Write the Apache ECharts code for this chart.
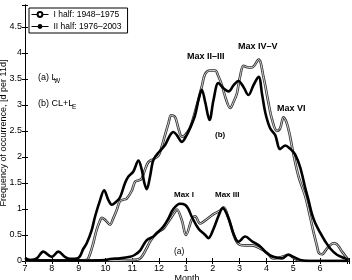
<!DOCTYPE html>
<html>
<head>
<meta charset="utf-8">
<script src="https://cdn.jsdelivr.net/npm/echarts@6/dist/echarts.min.js"></script>
<style>
html,body{margin:0;padding:0;background:#fff}
#chart{width:352px;height:280px}
</style>
</head>
<body>
<div id="chart"></div>
<script>
// x = months since 1 July (0 = "7"), y = days per 11 days
var monthLabels = ['7','8','9','10','11','12','1','2','3','4','5','6'];
var yTickLabels = ['0','0.5','1','1.5','2','2.5','3','3.5','4','4.5'];

// (b) CL+LE, I half 1948-1975 (open circles)
var bFirstHalf = [[0,0.01],[1.0,0.01],[2.0,0.01],[2.30,0.02],[2.40,0.1],[2.55,0.35],[2.67,0.6],[2.80,0.78],[2.86,0.83],
	[2.99,0.79],[3.17,0.7],[3.29,0.82],[3.42,0.98],[3.54,1.15],[3.67,1.18],[3.79,1.2],[3.98,1.35],[4.10,1.52],[4.23,1.55],
	[4.35,1.58],[4.47,1.75],[4.60,1.9],[4.79,1.96],[4.97,2.02],[5.10,2.2],[5.22,2.42],[5.35,2.65],[5.45,2.8],[5.60,2.76],
	[5.72,2.55],[5.85,2.39],[5.97,2.42],[6.16,2.57],[6.41,3.0],[6.59,3.35],[6.72,3.6],[6.90,3.66],[7.09,3.66],[7.21,3.55],
	[7.34,3.38],[7.50,3.1],[7.65,2.94],[7.77,3.05],[7.90,3.22],[8.02,3.55],[8.15,3.75],[8.33,3.72],[8.46,3.72],[8.71,3.87],
	[8.89,3.54],[9.08,3.03],[9.21,2.72],[9.39,2.5],[9.51,2.55],[9.64,2.76],[9.76,2.65],[9.88,2.4],[10.01,2.05],[10.20,1.62],
	[10.45,1.24],[10.63,0.85],[10.76,0.55],[10.88,0.3],[10.96,0.15],[11.07,0.13],[11.26,0.24],[11.50,0.34],[11.63,0.32],
	[11.82,0.18],[12.06,0.02]];
// (b) CL+LE, II half 1976-2003 (filled dots)
var bSecondHalf = [[0,0.06],[0.19,0.02],[0.44,0.05],[0.68,0.18],[1.0,0.08],[1.24,0.18],[1.49,0.08],[1.68,0.04],[1.99,0.06],
	[2.18,0.24],[2.30,0.34],[2.49,0.6],[2.61,0.85],[2.80,1.17],[2.95,1.36],[3.11,1.17],[3.24,1.08],[3.36,1.12],[3.54,1.22],
	[3.73,1.5],[3.85,1.62],[4.04,1.72],[4.23,1.93],[4.35,1.76],[4.45,1.5],[4.54,1.38],[4.66,1.62],[4.76,1.9],[4.85,2.0],
	[4.97,2.08],[5.22,2.23],[5.41,2.42],[5.53,2.48],[5.66,2.42],[5.85,2.29],[6.03,2.42],[6.16,2.56],[6.34,2.8],[6.47,3.1],
	[6.59,3.29],[6.72,3.05],[6.88,2.71],[7.03,3.1],[7.21,3.42],[7.40,3.32],[7.59,3.26],[7.78,3.38],[7.96,3.46],[8.15,3.34],
	[8.33,3.19],[8.52,3.38],[8.71,3.54],[8.84,3.2],[8.96,2.85],[9.14,2.55],[9.33,2.42],[9.51,2.15],[9.70,2.22],[9.90,2.15],
	[10.07,2.05],[10.26,1.8],[10.45,1.4],[10.57,1.17],[10.70,0.9],[10.82,0.73],[11.01,0.54],[11.19,0.38],[11.38,0.24],
	[11.63,0.12],[11.94,0.05],[12.06,0.02]];
// (a) LW, I half (open circles)
var aFirstHalf = [[0,0.01],[3.0,0.01],[4.0,0.02],[4.29,0.05],[4.54,0.25],[4.66,0.37],[4.91,0.54],[5.16,0.62],[5.35,0.76],
	[5.60,0.95],[5.66,0.99],[5.85,0.78],[6.0,0.5],[6.22,0.8],[6.34,0.86],[6.53,0.72],[6.72,0.78],[7.03,0.9],[7.28,0.97],
	[7.40,1.03],[7.65,0.72],[7.84,0.42],[8.02,0.31],[8.21,0.3],[8.46,0.3],[8.77,0.24],[9.02,0.16],[9.26,0.05],[9.58,0.08],
	[9.82,0.12],[10.07,0.04],[10.3,0.0],[12.06,0.0]];
// (a) LW, II half (filled dots)
var aSecondHalf = [[0,0.02],[1.0,0.01],[2.0,0.01],[3.0,0.02],[3.17,0.04],[3.54,0.05],[3.92,0.08],[4.10,0.12],[4.29,0.2],
	[4.54,0.4],[4.79,0.47],[4.91,0.53],[5.16,0.66],[5.35,0.82],[5.53,1.0],[5.78,1.1],[5.97,1.08],[6.09,1.0],[6.22,0.85],
	[6.47,0.62],[6.72,0.5],[6.84,0.44],[7.03,0.62],[7.21,0.86],[7.37,1.02],[7.59,0.82],[7.77,0.53],[7.96,0.37],[8.21,0.47],
	[8.46,0.38],[8.77,0.28],[9.02,0.15],[9.26,0.08],[9.58,0.05],[9.82,0.12],[10.01,0.08],[10.26,0.02],[10.6,0.0],[12.06,0.0]];

var FONT = "'Liberation Sans', Arial, sans-serif";
var NAME1 = 'I half: 1948\u20131975';
var NAME2 = 'II half: 1976\u20132003';

var chart = echarts.init(document.getElementById('chart'), null, {renderer: 'canvas'});

function monthLabel(v){
	var i = Math.round(v);
	if (Math.abs(v - i) > 1e-6 || i >= monthLabels.length) return '';
	return monthLabels[i];
}
function yLabel(v){
	var i = Math.round(v * 2);
	if (Math.abs(v * 2 - i) > 1e-6 || i >= yTickLabels.length) return '';
	return yTickLabels[i];
}

// open circles: dark outer stroke with a light core
function openSeries(name, data){
	return [{
		name: name, type: 'line', data: data, smooth: 0.35,
		symbol: 'circle', symbolSize: 5, showSymbol: false,
		itemStyle: {color: '#fff', borderColor: '#000', borderWidth: 1},
		lineStyle: {color: '#333', width: 2.6},
		silent: true, animation: false, z: 2
	},{
		name: name + ' core', type: 'line', data: data, smooth: 0.35,
		symbol: 'none', lineStyle: {color: '#e8e8e8', width: 0.9},
		silent: true, animation: false, z: 3
	}];
}
function filledSeries(name, data){
	return {
		name: name, type: 'line', data: data, smooth: 0.35,
		symbol: 'circle', symbolSize: 4, showSymbol: false,
		itemStyle: {color: '#000'},
		lineStyle: {color: '#000', width: 2.6},
		silent: true, animation: false, z: 4
	};
}

var series = [].concat(
	openSeries(NAME1, aFirstHalf),
	openSeries(NAME1, bFirstHalf),
	[filledSeries(NAME2, aSecondHalf), filledSeries(NAME2, bSecondHalf)]
);

function txt(x, y, s, opt){
	opt = opt || {};
	return {
		type: 'text', left: x, top: y, z: 10,
		style: {text: s, fill: '#000', font: (opt.bold ? 'bold ' : '') + (opt.size || 9) + 'px ' + FONT}
	};
}

var option = {
	backgroundColor: '#fff',
	animation: false,
	grid: {left: 25, top: 5, right: 3, bottom: 19, containLabel: false, outerBoundsMode: 'none'},
	legend: {
		data: [NAME1, NAME2],
		orient: 'vertical', left: 29, top: 8,
		itemWidth: 17, itemHeight: 6, itemGap: 3,
		padding: [2, 6, 2, 2],
		borderColor: '#000', borderWidth: 1, backgroundColor: '#fff',
		lineStyle: {width: 1, color: '#000'},
		textStyle: {fontSize: 8.5, fontFamily: FONT, color: '#000'},
		selectedMode: false
	},
	xAxis: [{
		type: 'value', min: 0, max: 12.08, interval: 1,
		name: 'Month', nameLocation: 'middle', nameGap: 13, nameMoveOverlap: false,
		nameTextStyle: {fontSize: 9, fontFamily: FONT, color: '#000'},
		axisLine: {lineStyle: {color: '#000', width: 1}},
		axisTick: {inside: true, length: 3, lineStyle: {color: '#000'}},
		axisLabel: {formatter: monthLabel, fontSize: 9, fontFamily: FONT, color: '#000', margin: 3},
		splitLine: {show: false}
	},{
		type: 'value', position: 'top', min: 0, max: 12.08, interval: 1,
		axisLine: {lineStyle: {color: '#000', width: 1}},
		axisTick: {inside: true, length: 3, lineStyle: {color: '#000'}},
		axisLabel: {show: false}, splitLine: {show: false}
	}],
	yAxis: [{
		type: 'value', min: 0, max: 4.92, interval: 0.5,
		name: 'Frequency of occurrence, [d per 11d]', nameLocation: 'middle', nameGap: 17, nameMoveOverlap: false,
		nameTextStyle: {fontSize: 9, fontFamily: FONT, color: '#000'},
		axisLine: {show: true, lineStyle: {color: '#000', width: 1}},
		axisTick: {show: true, inside: true, length: 3, lineStyle: {color: '#000'}},
		axisLabel: {formatter: yLabel, fontSize: 9, fontFamily: FONT, color: '#000', margin: 3},
		splitLine: {show: false}
	},{
		type: 'value', position: 'right', min: 0, max: 4.92, interval: 0.5,
		axisLine: {show: true, lineStyle: {color: '#000', width: 1}},
		axisTick: {show: true, inside: true, length: 3, lineStyle: {color: '#000'}},
		axisLabel: {show: false}, splitLine: {show: false}
	}],
	graphic: [
		txt(38, 73, '(a) L'), txt(54, 78, 'W', {size: 6.5}),
		txt(38, 99, '(b) CL+L'), txt(72, 104, 'E', {size: 6.5}),
		txt(187, 52, 'Max II\u2013III', {bold: true}),
		txt(238, 42, 'Max IV\u2013V', {bold: true}),
		txt(277, 104, 'Max VI', {bold: true}),
		txt(215, 131, '(b)', {bold: true, size: 8}),
		txt(174, 191, 'Max I', {bold: true, size: 8}),
		txt(215, 191, 'Max III', {bold: true, size: 8}),
		txt(174, 247, '(a)', {size: 8.5})
	],
	series: series
};
chart.setOption(option);
</script>
</body>
</html>
